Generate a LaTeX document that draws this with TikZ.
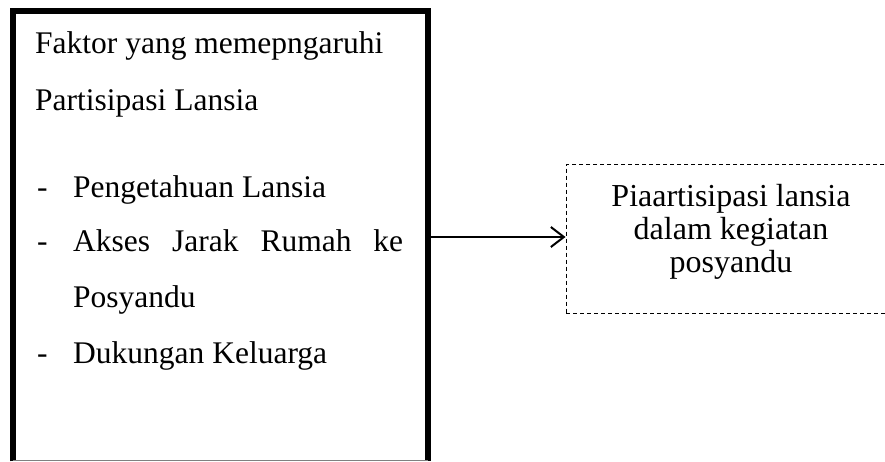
\documentclass[tikz,border=0pt]{standalone}
\usepackage{fontspec}
\setmainfont{Liberation Serif}
\usetikzlibrary{arrows.meta}
\begin{document}
\begin{tikzpicture}[x=1pt,y=-1pt,
  txt/.style={inner sep=0pt, anchor=base west, font=\fontsize{31.5}{33}\selectfont},
  thickborder/.style={line width=6pt},
  dashedbox/.style={draw, line width=1pt, dash pattern=on 4pt off 3pt, inner sep=0pt}]
\useasboundingbox (0,0) rectangle (885,461);
\fill[white] (0,0) rectangle (885,461);
% left box
\node[inner sep=0pt, minimum width=415pt, minimum height=450pt, anchor=north west] (factors) at (12.5,11) {};
\draw[thickborder] (factors.south west) -- (factors.north west) -- (factors.north east) -- (factors.south east);
\draw[gray, line width=1pt] ([yshift=0.5pt]factors.south west) -- ([yshift=0.5pt]factors.south east);
\node[txt] (t1) at (35,53) {Faktor yang memepngaruhi};
\node[txt] (t2) at (35,110) {Partisipasi Lansia};
\node[txt] (d1) at (37,197) {-};
\node[txt] (i1) at (73,197) {Pengetahuan Lansia};
\node[txt] (d2) at (37,251) {-};
\node[txt] (i2) at (73,251) {\makebox[330pt][s]{Akses Jarak Rumah ke}};
\node[txt] (i2b) at (73,307) {Posyandu};
\node[txt] (d3) at (37,363) {-};
\node[txt] (i3) at (73,363) {Dukungan Keluarga};
% right box
\node[dashedbox, minimum width=319pt, minimum height=149pt, anchor=north west] (result) at (565.5,164) {};
\node[inner sep=0pt, align=center, font=\fontsize{32}{33}\selectfont] (rtext) at (731,232) {Piaartisipasi lansia\\dalam kegiatan\\posyandu};
% arrow
\coordinate (astart) at ([xshift=3pt]factors.east |- 0,237);
\draw[line width=2pt, -{Straight Barb[length=13pt,width=20pt,line width=2pt]}] (astart) -- (astart -| result.west);
\end{tikzpicture}
\end{document}
